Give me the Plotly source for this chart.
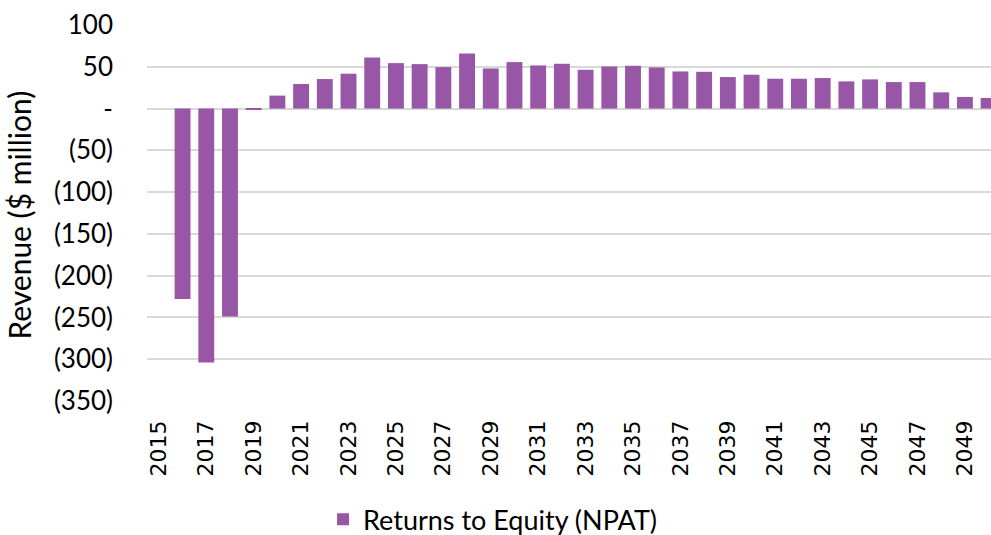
import plotly.graph_objects as go

years = list(range(2015, 2051))
npat = [0, -228, -304, -249, -1.5, 15.5, 29.4, 35.3, 41.7, 61.1, 54.4, 53.2, 49.6, 65.9,
        48.0, 55.6, 51.6, 53.6, 46.4, 50.4, 51.2, 49.2, 44.4, 44.0, 37.7, 40.5, 35.7,
        35.7, 36.5, 32.5, 34.9, 31.7, 31.7, 19.4, 13.9, 12.7]
series_name = "Returns to Equity (NPAT)"
y_tickvals = [100, 50, 0, -50, -100, -150, -200, -250, -300, -350]
y_ticktext = ["100", "50", "-", "(50)", "(100)", "(150)", "(200)", "(250)", "(300)", "(350)"]
x_tickvals = list(range(2015, 2051, 2))
x_ticktext = [str(y) for y in x_tickvals]
y_title = "Revenue ($ million)"

purple = "#9856A6"
grid = "#D9D9D9"

fig = go.Figure()
fig.add_trace(go.Bar(x=years, y=npat, name=series_name, marker=dict(color=purple, line=dict(width=0)),
                     width=0.67, showlegend=True))

fig.update_layout(
    width=991, height=535,
    margin=dict(l=147, r=0, t=25, b=134, autoexpand=False),
    paper_bgcolor="white", plot_bgcolor="white",
    font=dict(family="Lato", color="#000000"),
    showlegend=True,
    legend=dict(orientation="h", x=0.41, xanchor="center", y=-0.316, yanchor="middle",
                font=dict(size=27, family="Lato"), itemwidth=30),
    xaxis=dict(range=[2014.5, 2050.1], tickmode="array", tickvals=x_tickvals, ticktext=x_ticktext,
               tickangle=-90, tickfont=dict(size=22, family="DejaVu Sans"), showgrid=False,
               zeroline=False, showline=False, ticklabelstandoff=14, automargin=False),
    yaxis=dict(range=[-350, 100], tickmode="array", tickvals=y_tickvals, ticktext=y_ticktext,
               tickfont=dict(size=26, family="Lato"), showgrid=True, gridcolor=grid, gridwidth=1.5,
               zeroline=True, zerolinecolor=grid, zerolinewidth=1.5, showline=False,
               ticklabelstandoff=33, automargin=False),
    bargap=0.33,
    annotations=[dict(text=y_title, xref="paper", yref="paper", x=-0.152, y=0.495,
                      textangle=-90, showarrow=False, font=dict(size=30, family="Lato"),
                      xanchor="center", yanchor="middle")],
)

fig.write_html("out.html", config={"displayModeBar": False},
               post_script="document.body.style.margin='0';document.body.style.overflow='hidden';")
